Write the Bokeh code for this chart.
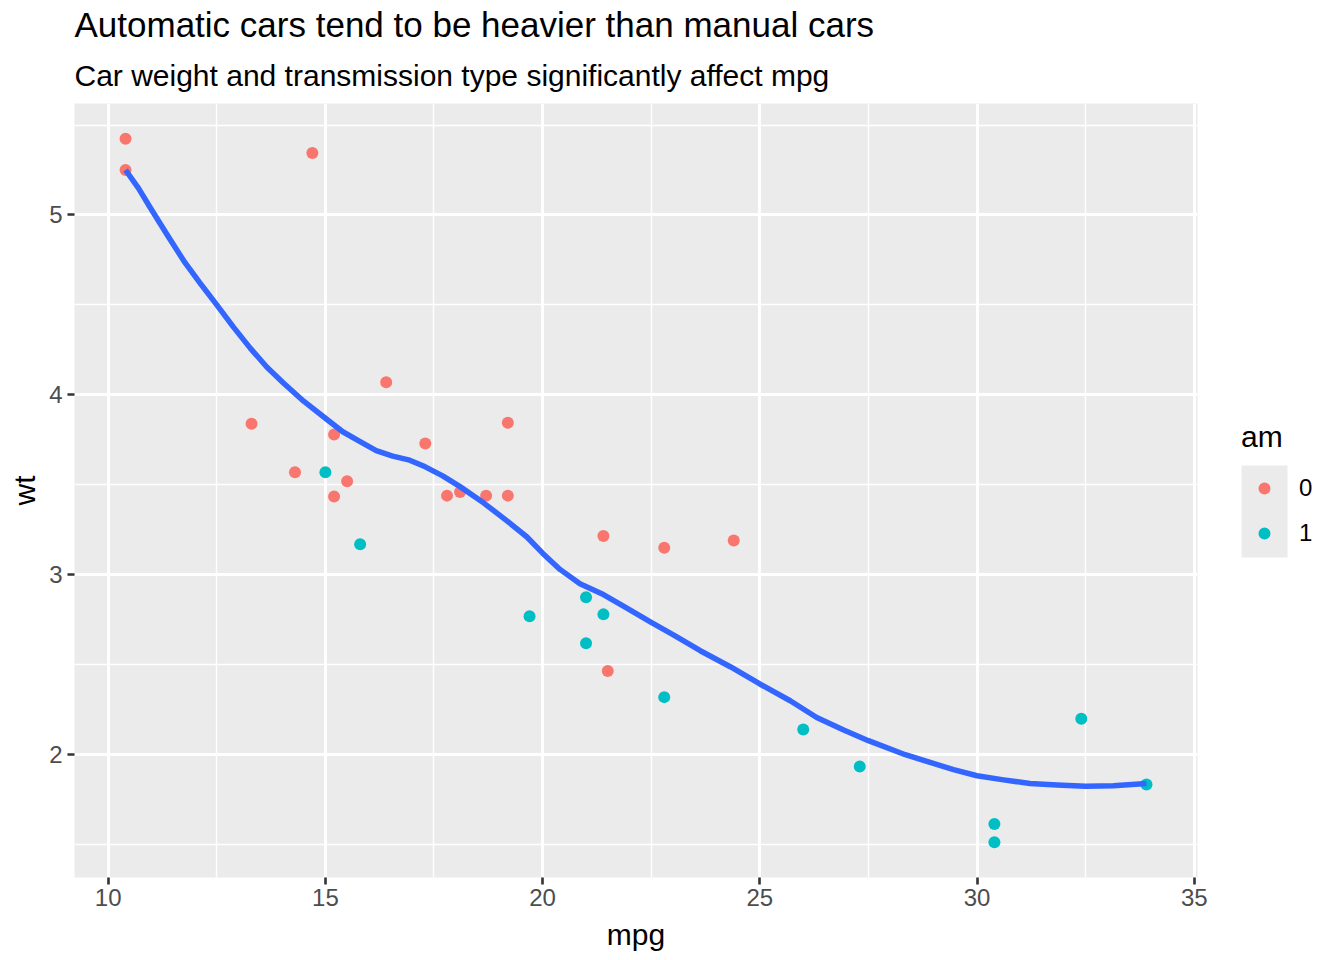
from bokeh.plotting import figure
from bokeh.layouts import row
from bokeh.models import (Legend, LegendItem, Title, SingleIntervalTicker,
                          Range1d, BoxAnnotation, ColumnDataSource)
from bokeh.embed import file_html
from bokeh.resources import INLINE

# ---- data (mtcars) ----
mpg = [21.0, 21.0, 22.8, 21.4, 18.7, 18.1, 14.3, 24.4, 22.8, 19.2, 17.8,
       16.4, 17.3, 15.2, 10.4, 10.4, 14.7, 32.4, 30.4, 33.9, 21.5, 15.5,
       15.2, 13.3, 19.2, 27.3, 26.0, 30.4, 15.8, 19.7, 15.0, 21.4]
wt = [2.620, 2.875, 2.320, 3.215, 3.440, 3.460, 3.570, 3.190, 3.150, 3.440,
      3.440, 4.070, 3.730, 3.780, 5.250, 5.424, 5.345, 2.200, 1.615, 1.835,
      2.465, 3.520, 3.435, 3.840, 3.845, 1.935, 2.140, 1.513, 3.170, 2.770,
      3.570, 2.780]
am = [1, 1, 1, 0, 0, 0, 0, 0, 0, 0, 0, 0, 0, 0, 0, 0, 0, 1, 1, 1, 0, 0,
      0, 0, 0, 1, 1, 1, 1, 1, 1, 1]

# loess smooth
smooth_mpg = [10.4, 10.7, 10.97, 11.35, 11.74, 12.12, 12.5, 12.88, 13.27,
              13.65, 14.04, 14.5, 15.0, 15.4, 15.8, 16.17, 16.55, 16.94,
              17.3, 17.7, 18.1, 18.64, 19.18, 19.64, 20.0, 20.4, 20.86,
              21.4, 21.9, 22.5, 23.05, 23.63, 24.32, 25.0, 25.7, 26.31,
              26.93, 27.5, 28.35, 28.92, 29.46, 30.0, 30.61, 31.22, 31.84,
              32.5, 33.14, 33.9]
smooth_wt = [5.25, 5.148, 5.04, 4.893, 4.745, 4.62, 4.50, 4.378, 4.26,
             4.155, 4.065, 3.965, 3.87, 3.795, 3.74, 3.69, 3.66, 3.637,
             3.60, 3.55, 3.49, 3.40, 3.30, 3.21, 3.12, 3.03, 2.95,
             2.89, 2.82, 2.735, 2.661, 2.578, 2.489, 2.393, 2.30, 2.207,
             2.137, 2.078, 2.0, 1.957, 1.917, 1.883, 1.86, 1.840, 1.832,
             1.824, 1.828, 1.84]

am_levels = [0, 1]
am_labels = ["0", "1"]
am_colors = ["#F8766D", "#00BFC4"]

title_text = "Automatic cars tend to be heavier than manual cars"
subtitle_text = "Car weight and transmission type significantly affect mpg"
x_title = "mpg"
y_title = "wt"
legend_title = "am"

FONT = "Liberation Sans"
H = 954
PW = 1209          # plot canvas width (panel right edge at 1197, room for "35")

def expand(vals, f=0.05):
    lo, hi = min(vals), max(vals)
    d = (hi - lo) * f
    return lo - d, hi + d

x0, x1 = expand(mpg)
y0, y1 = expand(wt)

p = figure(width=PW, height=H, output_backend="svg", toolbar_location=None,
           title=None, x_range=Range1d(x0, x1), y_range=Range1d(y0, y1),
           min_border_left=74, min_border_right=12, min_border_top=103,
           min_border_bottom=77, background_fill_color="#EBEBEB",
           border_fill_color="white", outline_line_color=None)

# grids
for g in (p.xgrid, p.ygrid):
    g.grid_line_color = "white"
    g.grid_line_width = 2.8
    g.minor_grid_line_color = "white"
    g.minor_grid_line_width = 1.4

p.xaxis.ticker = SingleIntervalTicker(interval=5, num_minor_ticks=2)
p.yaxis.ticker = SingleIntervalTicker(interval=1, num_minor_ticks=2)

for ax in (p.xaxis, p.yaxis):
    ax.axis_line_color = None
    ax.major_tick_line_color = "#333333"
    ax.major_tick_line_width = 2.6
    ax.major_tick_out = 7
    ax.major_tick_in = 0
    ax.minor_tick_line_color = None
    ax.major_label_text_font = FONT
    ax.major_label_text_font_size = "24px"
    ax.major_label_text_color = "#4D4D4D"
    ax.axis_label_text_font = FONT
    ax.axis_label_text_font_size = "30px"
    ax.axis_label_text_font_style = "normal"
    ax.axis_label_text_color = "black"

p.xaxis.axis_label = x_title
p.yaxis.axis_label = y_title
p.xaxis.major_label_standoff = 4
p.xaxis.axis_label_standoff = 9
p.yaxis.major_label_standoff = 5
p.yaxis.axis_label_standoff = 5

# points
sources = []
for lev, col in zip(am_levels, am_colors):
    src = ColumnDataSource(dict(
        mpg=[m for m, a in zip(mpg, am) if a == lev],
        wt=[w for w, a in zip(wt, am) if a == lev]))
    sources.append(src)
    p.scatter("mpg", "wt", source=src, size=12, color=col, line_width=0)

# smooth line
p.line(smooth_mpg, smooth_wt, line_color="#3366FF", line_width=5.5,
       line_join="round")

# titles
p.add_layout(Title(text=subtitle_text, text_font=FONT, text_font_size="30px",
                   text_font_style="normal", text_color="black", align="left",
                   standoff=23), "above")
p.add_layout(Title(text=title_text, text_font=FONT, text_font_size="35px",
                   text_font_style="normal", text_color="black", align="left",
                   standoff=3), "above")

# ---- legend panel (right of the plot panel; frame aligned with the plot) ----
LW = 1336 - PW
FRAME_BOTTOM = 877   # page y of the plot panel's bottom edge
LX = 1241 - PW       # legend left, relative to the legend panel

leg = figure(width=LW, height=H, output_backend="svg", toolbar_location=None,
             title=None, x_axis_type=None, y_axis_type=None,
             x_range=Range1d(-2, -1), y_range=Range1d(-2, -1),
             min_border=0, outline_line_color=None,
             background_fill_color="white", border_fill_color="white")
leg.grid.visible = False

# grey key background, as in ggplot's legend keys
leg.add_layout(BoxAnnotation(left=LX, right=LX + 46,
                             bottom=FRAME_BOTTOM - 557, top=FRAME_BOTTOM - 465,
                             left_units="screen", right_units="screen",
                             top_units="screen", bottom_units="screen",
                             fill_color="#EBEBEB", fill_alpha=1.0,
                             line_color=None, level="annotation"))

items = []
for lab, col, src in zip(am_labels, am_colors, sources):
    # same data as the plot; this panel's ranges keep them out of view
    r = leg.scatter("mpg", "wt", source=src, size=12, color=col, line_width=0)
    items.append(LegendItem(label=lab, renderers=[r]))

legend = Legend(items=items, location=(LX, FRAME_BOTTOM - 548),
                title=legend_title,
                title_text_font=FONT, title_text_font_size="30px",
                title_text_font_style="normal", title_text_color="black",
                label_text_font=FONT, label_text_font_size="24px",
                label_text_color="black",
                glyph_width=46, glyph_height=30, spacing=15, label_standoff=12,
                padding=0, margin=0, title_standoff=19,
                background_fill_alpha=0, border_line_alpha=0)
leg.add_layout(legend)

layout = row(p, leg)
open("out.html", "w").write(file_html(layout, INLINE))
